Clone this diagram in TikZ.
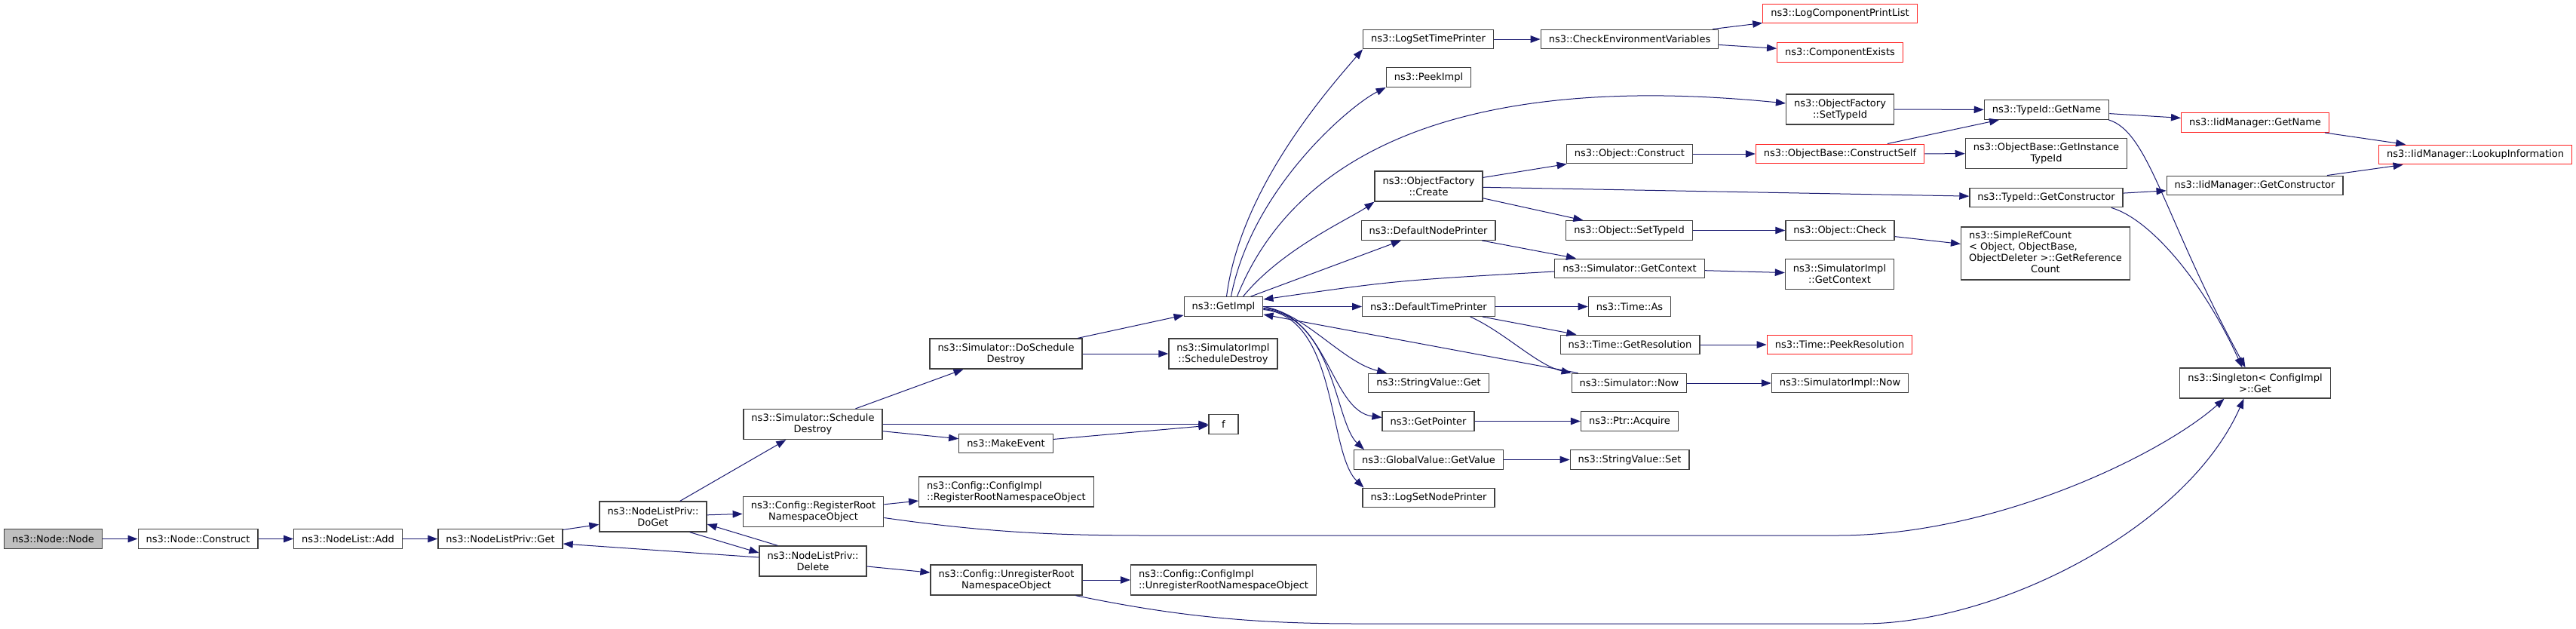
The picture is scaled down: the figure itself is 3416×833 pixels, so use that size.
\documentclass[tikz,border=0pt]{standalone}
\usepackage{fontspec}
\setmainfont{DejaVu Sans}
\usetikzlibrary{arrows.meta}
\definecolor{edgeblue}{HTML}{191970}
\definecolor{nodegray}{HTML}{404040}
\definecolor{rootgray}{HTML}{BFBFBF}
\definecolor{truncred}{HTML}{FF2020}
\tikzset{
  fnbox/.style={draw=nodegray, fill=white, text=black, line width=1.3pt,
    inner xsep=10.5pt, inner ysep=2pt, minimum height=25.6pt,
    font=\fontsize{13}{15}\selectfont},
  fnboxtwo/.style={fnbox, align=center, minimum height=40pt},
  rootbox/.style={fnbox, fill=rootgray},
  cutbox/.style={fnbox, draw=truncred}
}
\begin{document}
\begin{tikzpicture}[->,>={Triangle[length=13pt,width=9.5pt]},x=1pt,y=-1pt,
      line width=1pt,color=edgeblue]
			\useasboundingbox (0,0) rectangle (3416,833);
			\node[rootbox] (node) at (70.5,714.5) {ns3::Node::Node};
			\node[fnbox] (construct) at (262.5,714.5) {ns3::Node::Construct};
			\node[fnbox] (add) at (461.5,714.5) {ns3::NodeList::Add};
			\node[fnbox] (get) at (663.5,714.5) {ns3::NodeListPriv::Get};
			\node[fnboxtwo] (doget) at (866,685) {ns3::NodeListPriv::\\DoGet};
			\node[fnboxtwo] (sched) at (1078,562.5) {ns3::Simulator::Schedule\\Destroy};
			\node[fnboxtwo] (regroot) at (1078.5,678.5) {ns3::Config::RegisterRoot\\NamespaceObject};
			\node[fnboxtwo] (delete) at (1078,744) {ns3::NodeListPriv::\\Delete};
			\node[fnboxtwo] (dosched) at (1334,469) {ns3::Simulator::DoSchedule\\Destroy};
			\node[fnbox] (makeevent) at (1334,588) {ns3::MakeEvent};
			\node[fnboxtwo, align=left] (cfgreg) at (1334.5,652) {ns3::Config::ConfigImpl\\::RegisterRootNamespaceObject};
			\node[fnboxtwo] (unreg) at (1334.5,769) {ns3::Config::UnregisterRoot\\NamespaceObject};
			\node[fnbox] (getimpl) at (1622.5,406.5) {ns3::GetImpl};
			\node[fnboxtwo] (implsched) at (1622,469) {ns3::SimulatorImpl\\::ScheduleDestroy};
			\node[fnbox, minimum width=39pt] (f) at (1622.5,562.5) {f};
			\node[fnboxtwo, align=left] (cfgunreg) at (1622.5,769) {ns3::Config::ConfigImpl\\::UnregisterRootNamespaceObject};
			\node[fnbox] (logtime) at (1894,52) {ns3::LogSetTimePrinter};
			\node[fnbox] (peek) at (1894.5,102.5) {ns3::PeekImpl};
			\node[fnboxtwo] (create) at (1894.5,247) {ns3::ObjectFactory\\::Create};
			\node[fnbox] (defnode) at (1894,305.5) {ns3::DefaultNodePrinter};
			\node[fnbox] (deftime) at (1894.5,406.5) {ns3::DefaultTimePrinter};
			\node[fnbox] (strget) at (1894.5,508) {ns3::StringValue::Get};
			\node[fnbox] (getptr) at (1894,558.5) {ns3::GetPointer};
			\node[fnbox] (globget) at (1894.5,609.5) {ns3::GlobalValue::GetValue};
			\node[fnbox] (lognode) at (1894.5,660) {ns3::LogSetNodePrinter};
			\node[fnbox] (checkenv) at (2161,52) {ns3::CheckEnvironmentVariables};
			\node[fnbox] (objcons) at (2161,204) {ns3::Object::Construct};
			\node[fnbox] (objtype) at (2160.5,305.5) {ns3::Object::SetTypeId};
			\node[fnbox] (simctx) at (2161,356) {ns3::Simulator::GetContext};
			\node[fnbox] (timeas) at (2161,406.5) {ns3::Time::As};
			\node[fnbox] (timeres) at (2161.5,457) {ns3::Time::GetResolution};
			\node[fnbox] (simnow) at (2160.5,508) {ns3::Simulator::Now};
			\node[fnbox] (acquire) at (2161,558.5) {ns3::Ptr::Acquire};
			\node[fnbox] (strset) at (2161,609.5) {ns3::StringValue::Set};
			\node[cutbox] (printlist) at (2440,18) {ns3::LogComponentPrintList};
			\node[cutbox] (compexists) at (2440,69.5) {ns3::ComponentExists};
			\node[fnboxtwo] (factype) at (2440,145) {ns3::ObjectFactory\\::SetTypeId};
			\node[cutbox] (conself) at (2440,204) {ns3::ObjectBase::ConstructSelf};
			\node[fnbox] (check) at (2440,305.5) {ns3::Object::Check};
			\node[fnboxtwo] (implctx) at (2439.5,363.5) {ns3::SimulatorImpl\\::GetContext};
			\node[cutbox] (peekres) at (2439.5,457) {ns3::Time::PeekResolution};
			\node[fnbox] (implnow) at (2440,508) {ns3::SimulatorImpl::Now};
			\node[fnbox] (tidname) at (2714,145.5) {ns3::TypeId::GetName};
			\node[fnboxtwo] (instid) at (2713.5,203.5) {ns3::ObjectBase::GetInstance\\TypeId};
			\node[fnbox] (tidctor) at (2713.5,262) {ns3::TypeId::GetConstructor};
			\node[fnbox, minimum height=70pt] (refcount) at (2712.5,336) {\begin{tabular}{@{}l@{}}ns3::SimpleRefCount\\< Object, ObjectBase,\\ObjectDeleter >::GetReference\\\multicolumn{1}{@{}c@{}}{Count}\end{tabular}};
			\node[cutbox] (iidname) at (2990.5,162.5) {ns3::IidManager::GetName};
			\node[fnbox] (iidctor) at (2990,246) {ns3::IidManager::GetConstructor};
			\node[fnboxtwo] (singleton) at (2990.5,508) {ns3::Singleton< ConfigImpl\\>::Get};
			\node[cutbox] (lookup) at (3282.5,205) {ns3::IidManager::LookupInformation};
			\path
				(node) edge (construct)
				(construct) edge (add)
				(add) edge (get)
				(get) edge (doget)
				(doget) edge (sched)
				(doget) edge (regroot)
				([xshift=-23pt]doget.south east) edge ([yshift=11pt]delete.west)
				([xshift=25pt]delete.north west) edge ([yshift=-10pt]doget.east)
				([yshift=5pt]delete.west) edge ([yshift=-6.5pt]get.east)
				(delete) edge (unreg)
				(sched) edge (dosched)
				(sched) edge (f)
				(sched) edge (makeevent)
				(makeevent) edge (f)
				(dosched) edge (getimpl)
				(dosched) edge (implsched)
				(regroot) edge (cfgreg)
				(unreg) edge (cfgunreg)
				(getimpl) edge (defnode)
				(getimpl) edge (deftime)
				([xshift=9pt]simnow.north west) edge ([yshift=-10.5pt]getimpl.east)
				(logtime) edge (checkenv)
				(checkenv) edge (printlist)
				(checkenv) edge (compexists)
				(create) edge (objcons)
				(create) edge (tidctor)
				(create) edge (objtype)
				(objcons) edge (conself)
				(conself) edge (tidname)
				(conself) edge (instid)
				(factype) edge (tidname)
				(objtype) edge (check)
				(check) edge (refcount)
				(defnode) edge (simctx)
				(simctx) edge (implctx)
				(deftime) edge (timeas)
				(deftime) edge (timeres)
				(timeres) edge (peekres)
				(simnow) edge (implnow)
				(getptr) edge (acquire)
				(globget) edge (strset)
				(tidname) edge (iidname)
				(iidname) edge (lookup)
				(tidctor) edge (iidctor)
				(iidctor) edge (lookup);
			\draw ([xshift=4pt]getimpl.north) .. controls (1645,250) and (1760,120) .. (logtime.south west);
			\draw ([xshift=10pt]getimpl.north) .. controls (1660,250) and (1790,140) .. (peek.south west);
			\draw ([xshift=18pt]getimpl.north) .. controls (1730,170) and (2000,100) .. ([yshift=8pt]factype.west);
			\draw ([xshift=26pt]getimpl.north) .. controls (1700,330) and (1790,290) .. (create.south west);
			\draw ([yshift=-4pt]simctx.west) .. controls (1850,372) .. ([yshift=9.5pt]getimpl.east);
			\draw ([xshift=55pt]deftime.south) .. controls +(45,20) and +(-45,-10) .. (simnow.north west);
			\draw (getimpl.east) .. controls (1730,415) and (1780,480) .. ([xshift=25pt]strget.north west);
			\draw ([yshift=-2pt]getimpl.east) .. controls (1760,415) and (1765,545) .. ([yshift=5pt]getptr.west);
			\draw ([yshift=-3pt]getimpl.east) .. controls (1770,420) and (1770,560) .. ([xshift=14pt]globget.north west);
			\draw ([yshift=-4pt]getimpl.east) .. controls (1775,420) and (1760,600) .. ([xshift=2pt]lognode.north west);
			\draw ([yshift=-8pt]regroot.east) .. controls (1350,712) and (1450,710) .. (1600,710) -- (2436,710)
				.. controls (2650,710) and (2870,600) .. ([xshift=-41pt]singleton.south);
			\draw ([xshift=-9pt]unreg.south east) .. controls (1550,815) and (1650,827) .. (1800,827) -- (2470,827)
				.. controls (2650,827) and (2900,700) .. ([xshift=-15pt]singleton.south);
			\draw ([xshift=-1pt]tidname.south east) .. controls (2850,175) and (2870,290) .. ([xshift=-13pt]singleton.north);
			\draw ([xshift=-16pt]tidctor.south east) .. controls (2850,290) and (2920,370) .. ([xshift=-17pt]singleton.north);
		\end{tikzpicture}
\end{document}
